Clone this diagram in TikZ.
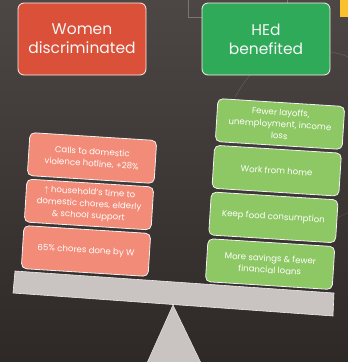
\documentclass[tikz,border=0pt]{standalone}
\usepackage{fontspec}
\setmainfont{Poppins}
\usepackage{xcolor}
\usetikzlibrary{positioning}

\definecolor{bgtop}{HTML}{4C4745}
\definecolor{bgbot}{HTML}{2E2927}
\definecolor{womenred}{HTML}{DA5038}
\definecolor{hedgreen}{HTML}{2EAA58}
\definecolor{salmon}{HTML}{F28B78}
\definecolor{leafgreen}{HTML}{8DC864}
\definecolor{beamgray}{HTML}{C9C3C1}
\definecolor{yellowtab}{HTML}{FBC02D}

\begin{document}
\begin{tikzpicture}[x=1pt, y=-1pt,
  titlebox/.style={draw=white!85!salmon, line width=0.8pt, rounded corners=6pt,
    minimum width=128pt, minimum height=72pt, inner sep=2pt,
    text=white!94!gray, align=center, font=\fontsize{15.5}{19}\selectfont},
  causebox/.style={draw=white!90!gray, line width=0.8pt, rounded corners=5pt,
    minimum width=127pt, minimum height=43pt, inner sep=1pt,
    text=white, align=center, font=\fontsize{8.6}{11.8}\selectfont, rotate=-3.6}
]

% BACKGROUND %
\useasboundingbox (0,0) rectangle (348,362);
\shade[top color=bgtop, bottom color=bgbot] (0,0) rectangle (348,362);

% faint lines
{
\draw[gray!70, very thin, opacity=0.5] (188,-2) rectangle (287,17);
\draw[gray!70, very thin, opacity=0.5] (235,97) .. controls (255,62) and (275,50) .. (300,49)
  .. controls (320,49) and (335,52) .. (349,57);
\draw[gray!70, very thin, opacity=0.5] (337,218) -- (349,212);
}
\fill[yellowtab] (340,0) rectangle (348,17);

%%%%%%%%%%%%  Titles %%%%%%%%%%%%%
\begin{scope}
{
\node[titlebox, fill=womenred] (women) at (82,39) {Women\\discriminated};
\node[titlebox, fill=hedgreen] (hed) at (266,39) {HEd\\benefited};
}
\end{scope}

%%%%%%%%%%%%  Scale %%%%%%%%%%%%%
\begin{scope}
{
% fulcrum
\fill[beamgray] (173,305) -- (201,363) -- (147,363) -- cycle;
\draw[white!80!gray, line width=0.5pt] (147,363) -- (173,305) -- (201,363);

% beam
\fill[beamgray] (15,271) -- (334,293) -- (333,316) -- (13,293) -- cycle;
\draw[white!85!gray, line width=0.6pt] (15,271) -- (334,293) -- (333,316) -- (13,293) -- cycle;
}
\end{scope}

%%%%%%%%%%%%  Weights %%%%%%%%%%%%%
% women side
\foreach \i/\txt in {1/{Calls to domestic\\violence hotline, +28\%},
                     2/{$\uparrow$ household’s time to\\domestic chores, elderly\\\& school support},
                     3/{65\% chores done by W}}
\node[causebox, fill=salmon] (w\i) at ({92-3*(\i-1)},{158+46.5*(\i-1)}) {\txt};

% HEd side
\foreach \i/\txt in {1/{Fewer layoffs,\\unemployment, income\\loss},
                     2/{Work from home},
                     3/{Keep food consumption},
                     4/{More savings \& fewer\\financial loans}}
\node[causebox, fill=leafgreen] (h\i) at ({280-3.3*(\i-1)},{124+46.7*(\i-1)}) {\txt};

\end{tikzpicture}
\end{document}
